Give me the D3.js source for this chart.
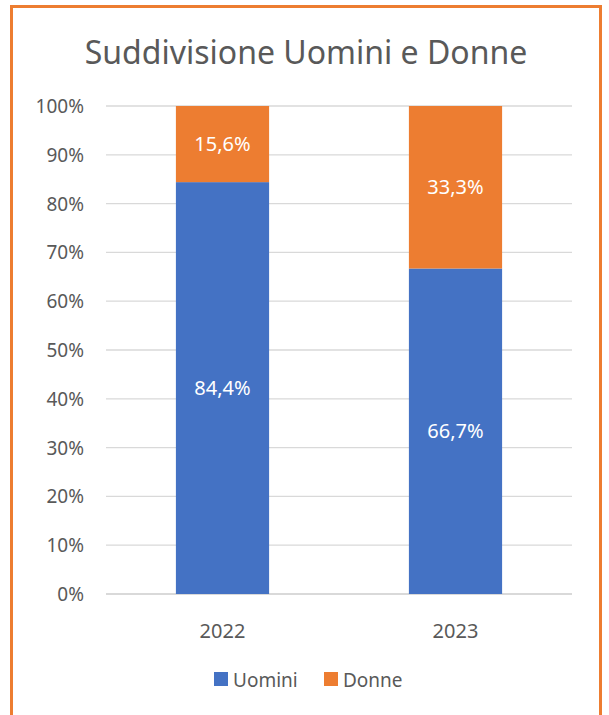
<!DOCTYPE html>
<html>
<head>
<meta charset="utf-8">
<script src="https://cdn.jsdelivr.net/npm/d3@7"></script>
<style>
  html, body { margin: 0; padding: 0; background: #fff; }
  svg text { font-family: "Noto Sans", "Open Sans", sans-serif; }
</style>
</head>
<body>
<svg id="chart"></svg>
<script>
// chart data
var years = ["2022", "2023"];
var uomini = [84.4, 66.7];
var donne = [15.6, 33.3];
var seriesNames = ["Uomini", "Donne"];
var yTicks = [0, 10, 20, 30, 40, 50, 60, 70, 80, 90, 100];

var w = 609, h = 715;
var svg = d3.select("#chart").attr("width", w).attr("height", h);

var colors = { "Uomini": "#4472C4", "Donne": "#ED7D31" };

// orange frame (bottom edge runs off the page)
svg.append("rect")
    .attr("x", 11.5).attr("y", 6.5)
    .attr("width", 589).attr("height", 720)
    .attr("fill", "#fff")
    .attr("stroke", "#ED7D31")
    .attr("stroke-width", 3);

svg.append("text")
    .attr("x", 306).attr("y", 64)
    .attr("text-anchor", "middle")
    .attr("fill", "#595959")
    .style("font-size", "32px")
    .text("Suddivisione Uomini e Donne");

var margin = { left: 106, right: 572, top: 106, bottom: 594 };

var x = d3.scaleBand().domain(years)
    .range([margin.left, margin.right])
    .paddingInner(0.6).paddingOuter(0.3);

var y = d3.scaleLinear().domain([0, 100]).range([margin.bottom, margin.top]);

// gridlines
svg.append("g").selectAll("line")
    .data(yTicks)
    .enter().append("line")
    .attr("x1", margin.left).attr("x2", margin.right)
    .attr("y1", function(d) { return y(d); })
    .attr("y2", function(d) { return y(d); })
    .attr("stroke", "#D9D9D9")
    .attr("stroke-width", function(d) { return d === 0 ? 2 : 1.3; });

// y tick labels
svg.append("g").selectAll("text")
    .data(yTicks)
    .enter().append("text")
    .attr("x", 84).attr("y", function(d) { return y(d) + 7; })
    .attr("text-anchor", "end")
    .attr("fill", "#595959")
    .style("font-size", "19px")
    .text(function(d) { return d + "%"; });

// stacked bars
var table = years.map(function(yr, i) { return { year: yr, Uomini: uomini[i], Donne: donne[i] }; });
var stack = d3.stack().keys(seriesNames)(table);

var layers = svg.append("g").selectAll("g")
    .data(stack)
    .enter().append("g")
    .attr("fill", function(d) { return colors[d.key]; });

layers.selectAll("rect")
    .data(function(d) { return d; })
    .enter().append("rect")
    .attr("x", function(d) { return x(d.data.year); })
    .attr("width", x.bandwidth())
    .attr("y", function(d) { return y(d[1]); })
    .attr("height", function(d) { return y(d[0]) - y(d[1]); });

layers.selectAll("text")
    .data(function(d) { return d; })
    .enter().append("text")
    .attr("x", function(d) { return x(d.data.year) + x.bandwidth() / 2; })
    .attr("y", function(d) { return (y(d[0]) + y(d[1])) / 2 + 7; })
    .attr("text-anchor", "middle")
    .attr("fill", "#fff")
    .style("font-size", "20px")
    .text(function(d) { return d3.format(".1f")(d[1] - d[0]).replace(".", ",") + "%"; });

// x labels
svg.append("g").selectAll("text")
    .data(years)
    .enter().append("text")
    .attr("x", function(d) { return x(d) + x.bandwidth() / 2; })
    .attr("y", 638)
    .attr("text-anchor", "middle")
    .attr("fill", "#595959")
    .style("font-size", "20px")
    .text(function(d) { return d; });

// legend
var legendX = [214, 324];
var legend = svg.append("g").selectAll("g")
    .data(seriesNames)
    .enter().append("g")
    .attr("transform", function(d, i) { return "translate(" + legendX[i] + ",672)"; });

legend.append("rect")
    .attr("width", 14).attr("height", 14)
    .attr("fill", function(d) { return colors[d]; });

legend.append("text")
    .attr("x", 19).attr("y", 14.5)
    .attr("fill", "#595959")
    .style("font-size", "19px")
    .text(function(d) { return d; });
</script>
</body>
</html>
